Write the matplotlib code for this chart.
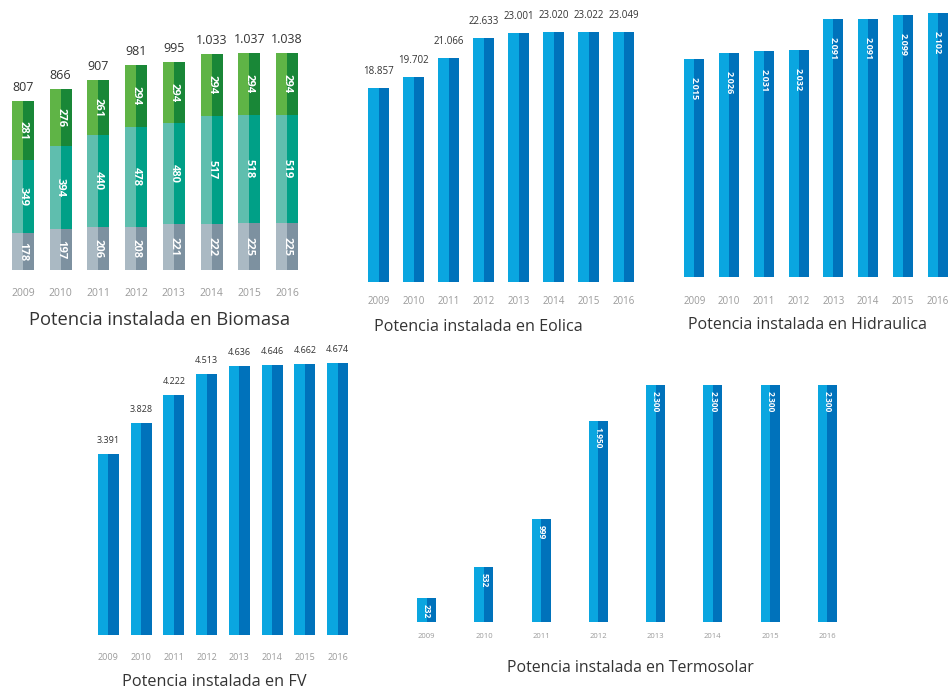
import matplotlib.pyplot as plt

plt.rcParams['font.family'] = ['Open Sans', 'DejaVu Sans']

# datos (MW)
years = ['2009', '2010', '2011', '2012', '2013', '2014', '2015', '2016']
bio_base = [178, 197, 206, 208, 221, 222, 225, 225]
bio_mid = [349, 394, 440, 478, 480, 517, 518, 519]
bio_top = [281, 276, 261, 294, 294, 294, 294, 294]
bio_total = [807, 866, 907, 981, 995, 1033, 1037, 1038]
eolica = [18857, 19702, 21066, 22633, 23001, 23020, 23022, 23049]
hidraulica = [2015, 2026, 2031, 2032, 2091, 2091, 2099, 2102]
fv = [3391, 3828, 4222, 4513, 4636, 4646, 4662, 4674]
termosolar = [232, 532, 999, 1950, 2300, 2300, 2300, 2300]

W, H = 951, 693
fig = plt.figure(figsize=(W / 100, H / 100), dpi=100)
fig.patch.set_facecolor('white')

BLUE_L, BLUE_D = '#0aa6e0', '#0072bb'


def fmt(v):
    return f'{v:,}'.replace(',', '.')


def make_axes(left, right, top, base, k, b0):
    # posiciones en pixeles de la imagen; k = pixeles por unidad, b0 = valor en la base
    ax = fig.add_axes([left / W, 1 - base / H, (right - left) / W, (base - top) / H])
    ax.set_xlim(-0.5, 7.5)
    ax.set_ylim(b0, b0 + (base - top) / k)
    ax.axis('off')
    return ax


def two_tone(ax, h, w, light, dark, bottom=0):
    x = range(len(h))
    ax.bar([i - w / 4 for i in x], h, w / 2, bottom=bottom, color=light, linewidth=0)
    ax.bar([i + w / 4 for i in x], h, w / 2, bottom=bottom, color=dark, linewidth=0)


def year_labels(ax, dy_px, size):
    for i, y in enumerate(years):
        ax.annotate(y, (i, 0), xycoords=('data', 'axes fraction'), xytext=(0, -dy_px * 0.72),
                    textcoords='offset points', ha='center', va='center', fontsize=size,
                    color='#9a9a9a', annotation_clip=False)


def top_labels(ax, vals, dy_px, size):
    for i, v in enumerate(vals):
        ax.annotate(fmt(v), (i, v), xytext=(0, dy_px * 0.72), textcoords='offset points',
                    ha='center', va='bottom', fontsize=size, color='#333333', annotation_clip=False)


def inside_labels(ax, vals, dy_px, size):
    for i, v in enumerate(vals):
        ax.annotate(fmt(v), (i, v), xytext=(0, -dy_px * 0.72), textcoords='offset points',
                    ha='center', va='top', rotation=-90, fontsize=size, color='white',
                    fontweight='bold', annotation_clip=False)


def title(x, y, s, size):
    fig.text(x / W, 1 - y / H, s, ha='center', va='center', fontsize=size, color='#333333')


# Biomasa
ax = make_axes(4, 306, 20, 270, 0.209, 0)
w = 0.58
two_tone(ax, bio_base, w, '#aab9c3', '#7d91a0')
two_tone(ax, bio_mid, w, '#5fbeae', '#00a087', bottom=bio_base)
mid_top = [a + b for a, b in zip(bio_base, bio_mid)]
two_tone(ax, bio_top, w, '#5fb446', '#198737', bottom=mid_top)
for i in range(8):
    for bot, h in [(0, bio_base[i]), (bio_base[i], bio_mid[i]), (mid_top[i], bio_top[i])]:
        ax.text(i, bot + h / 2, str(h), rotation=-90, ha='center', va='center',
                fontsize=8, color='white', fontweight='bold')
top_labels(ax, bio_total, 7, 9)
year_labels(ax, 23, 7.5)
title(160, 320, 'Potencia instalada en Biomasa', 13.2)

# Eolica
ax = make_axes(361, 641, 5, 282, 0.01336, 4336)
two_tone(ax, eolica, 0.6, BLUE_L, BLUE_D)
top_labels(ax, eolica, 11, 7)
year_labels(ax, 20, 7)
title(478, 327, 'Potencia instalada en Eolica', 11.6)

# Hidraulica
ax = make_axes(677, 955, 5, 277, 0.529, 1603)
two_tone(ax, hidraulica, 0.58, BLUE_L, BLUE_D)
inside_labels(ax, hidraulica, 18, 6.5)
year_labels(ax, 25, 7)
title(807, 325, 'Potencia instalada en Hidraulica', 11.5)

# FV
ax = make_axes(92, 354, 345, 635, 0.0709, 838)
two_tone(ax, fv, 0.64, BLUE_L, BLUE_D)
top_labels(ax, fv, 9, 6.5)
year_labels(ax, 22, 6.5)
title(214, 682, 'Potencia instalada en FV', 11.7)

# Termosolar
ax = make_axes(398, 856, 370, 622, 0.103, 0)
two_tone(ax, termosolar, 0.33, BLUE_L, BLUE_D)
inside_labels(ax, termosolar, 6, 6)
year_labels(ax, 15, 5.5)
title(630, 668, 'Potencia instalada en Termosolar', 11.4)

fig.savefig('out.png', dpi=100)
